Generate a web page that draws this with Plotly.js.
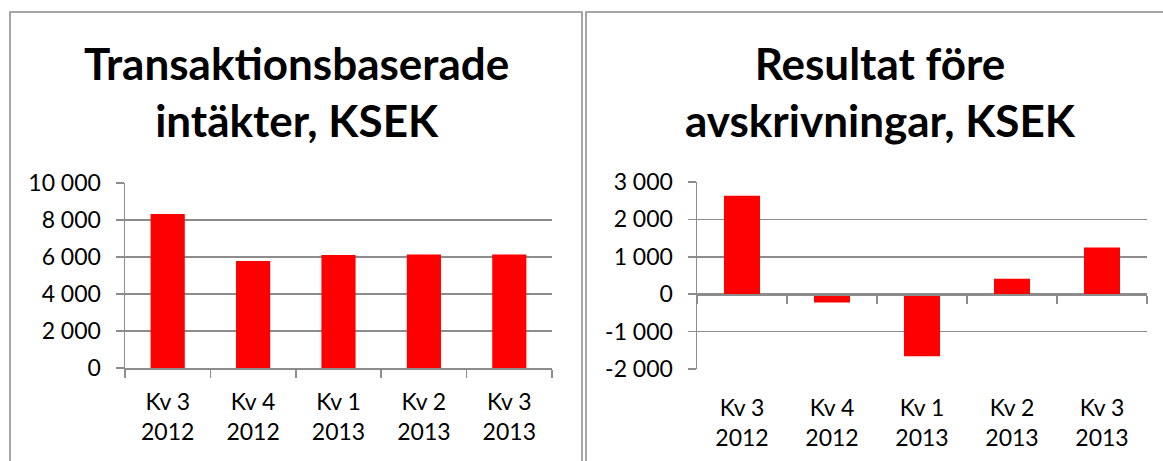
<!DOCTYPE html>
<html>
<head>
<meta charset="utf-8">
<script src="https://cdn.plot.ly/plotly-3.0.1.min.js"></script>
<style>html,body{margin:0;padding:0;background:#fff;}#chart{width:1163px;height:461px;}</style>
</head>
<body>
<div id="chart"></div>
<script>
// ---- data ----
const categories = ["Kv 3<br>2012", "Kv 4<br>2012", "Kv 1<br>2013", "Kv 2<br>2013", "Kv 3<br>2013"];
const intakter = [8320, 5780, 6110, 6140, 6140];
const resultat = [2630, -220, -1660, 410, 1250];
const leftTickVals = [0, 2000, 4000, 6000, 8000, 10000];
const leftTickText = ["0", "2 000", "4 000", "6 000", "8 000", "10 000"];
const rightTickVals = [-2000, -1000, 0, 1000, 2000, 3000];
const rightTickText = ["-2 000", "-1 000", "0", "1 000", "2 000", "3 000"];
const titleLeft = "Transaktionsbaserade<br>intäkter, KSEK";
const titleRight = "Resultat före<br>avskrivningar, KSEK";

// ---- layout helpers ----
const W = 1163, H = 461;
const px = v => v / W;
const py = v => 1 - v / H;
const gridCol = "#8c8c8c";
const fontFam = "Lato, 'Open Sans', sans-serif";
const tickFont = {family: fontFam, size: 23, color: "#000"};

const yDomL = [py(368), py(183)];
const yDomR = [py(369), py(182)];
const yR0 = rightTickVals[0], yR1 = rightTickVals[rightTickVals.length - 1];
const zeroPos = yDomR[0] + (0 - yR0) / (yR1 - yR0) * (yDomR[1] - yDomR[0]);

const traces = [
  {type: "bar", x: categories, y: intakter, xaxis: "x", yaxis: "y",
   marker: {color: "#ff0000"}, hoverinfo: "y"},
  {type: "bar", x: categories, y: resultat, xaxis: "x2", yaxis: "y2",
   marker: {color: "#ff0000"}, hoverinfo: "y"},
  {type: "scatter", mode: "markers", x: categories, y: resultat, xaxis: "x3", yaxis: "y2",
   marker: {opacity: 0}, hoverinfo: "skip", showlegend: false}
];

const axBase = {
  showline: true, linecolor: gridCol, linewidth: 1.5,
  ticks: "outside", ticklen: 8, tickcolor: gridCol, tickwidth: 1.5,
  tickfont: tickFont, fixedrange: true
};

const layout = {
  width: W, height: H,
  margin: {l: 0, r: 0, t: 0, b: 0},
  paper_bgcolor: "#fff", plot_bgcolor: "#fff",
  showlegend: false,
  bargap: 0.6,
  font: {family: fontFam, color: "#000"},
  xaxis: Object.assign({}, axBase, {
    domain: [px(125), px(552)], anchor: "y", type: "category",
    tickson: "boundaries", range: [-0.5, categories.length - 0.5],
    showgrid: false, ticklabelstandoff: 13
  }),
  yaxis: Object.assign({}, axBase, {
    domain: yDomL, anchor: "x", range: [0, 10000],
    tickvals: leftTickVals, ticktext: leftTickText,
    showgrid: true, gridcolor: gridCol, gridwidth: 1.5, zeroline: false,
    ticklabelstandoff: 10
  }),
  xaxis2: Object.assign({}, axBase, {
    domain: [px(697), px(1147)], anchor: "y2", type: "category",
    range: [-0.5, categories.length - 0.5],
    showline: false, ticks: "", showgrid: false, ticklabelstandoff: 23
  }),
  xaxis3: Object.assign({}, axBase, {
    overlaying: "x2", anchor: "free", position: zeroPos, type: "category",
    tickson: "boundaries", range: [-0.5, categories.length - 0.5],
    showticklabels: false, showgrid: false
  }),
  yaxis2: Object.assign({}, axBase, {
    domain: yDomR, anchor: "x2", range: [yR0, yR1],
    tickvals: rightTickVals, ticktext: rightTickText,
    showgrid: true, gridcolor: gridCol, gridwidth: 1.5, zeroline: false,
    ticklabelstandoff: 10
  }),
  annotations: [
    {text: titleLeft, xref: "paper", yref: "paper", x: px(296), y: py(91),
     xanchor: "center", yanchor: "middle", showarrow: false,
     font: {family: fontFam, size: 44, weight: 700, color: "#000"}},
    {text: titleRight, xref: "paper", yref: "paper", x: px(880), y: py(91),
     xanchor: "center", yanchor: "middle", showarrow: false,
     font: {family: fontFam, size: 44, weight: 700, color: "#000"}}
  ],
  shapes: [
    {type: "rect", xref: "paper", yref: "paper", x0: px(10), x1: px(582), y0: -0.2, y1: py(12),
     line: {color: "#8a8a8a", width: 1.5}, layer: "below"},
    {type: "rect", xref: "paper", yref: "paper", x0: px(586), x1: px(1175), y0: -0.2, y1: py(12),
     line: {color: "#8a8a8a", width: 1.5}, layer: "below"}
  ]
};

Plotly.newPlot("chart", traces, layout, {displayModeBar: false, staticPlot: true});
</script>
</body>
</html>
